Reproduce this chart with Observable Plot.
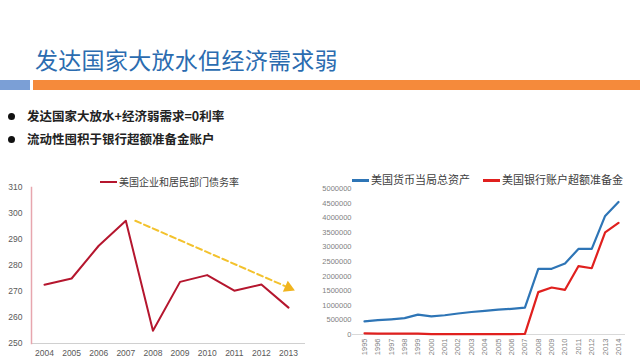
<!DOCTYPE html>
<html><head><meta charset="utf-8">
<script src="https://cdn.jsdelivr.net/npm/d3@7"></script>
<script src="https://cdn.jsdelivr.net/npm/@observablehq/plot@0.6"></script>
<style>
html,body{margin:0;padding:0;background:#fff;}
#slide{position:relative;width:640px;height:360px;overflow:hidden;background:#fff;font-family:"Noto Sans CJK SC",sans-serif;}
.abs{position:absolute;}
#title{left:35px;top:45px;font-size:23px;line-height:28px;color:#2b6cb0;letter-spacing:0.3px;white-space:nowrap;}
.bullet{left:8px;font-size:12.5px;font-weight:bold;color:#222;white-space:nowrap;line-height:16px;}
.bullet span.dot{display:inline-block;width:7px;height:7px;border-radius:50%;background:#111;margin-right:12px;vertical-align:middle;position:relative;top:-1px;}
.leg{font-size:10px;color:#404040;white-space:nowrap;line-height:14px;}
.leg i{display:inline-block;height:2px;vertical-align:middle;margin-right:2px;position:relative;top:-1px;}
</style></head>
<body><div id="slide">
<div id="title" class="abs">发达国家大放水但经济需求弱</div>
<div class="abs" style="left:0;top:80px;width:30px;height:10px;background:#7b9fd6;"></div>
<div class="abs" style="left:33px;top:80px;width:607px;height:10px;background:#f58a3b;"></div>
<div class="abs bullet" style="top:108px;"><span class="dot"></span>发达国家大放水+经济弱需求=0利率</div>
<div class="abs bullet" style="top:131px;"><span class="dot"></span>流动性囤积于银行超额准备金账户</div>
<div id="left" class="abs" style="left:0;top:175px;"></div>
<div id="right" class="abs" style="left:320px;top:170px;"></div>
<div class="abs leg" style="left:100px;top:175px;"><i style="width:17px;background:#b5162e;"></i>美国企业和居民部门债务率</div>
<div class="abs leg" style="left:352px;top:172px;font-size:11px;"><i style="width:17px;height:3px;background:#2e75b6;"></i>美国货币当局总资产</div>
<div class="abs leg" style="left:483px;top:172px;font-size:11px;"><i style="width:17px;height:3px;background:#e0201e;"></i>美国银行账户超额准备金</div>
</div>
<script>
// Left chart data: US corporate + household debt ratio
const debtYears = [2004, 2005, 2006, 2007, 2008, 2009, 2010, 2011, 2012, 2013];
const debtRatio = [272.6, 275.0, 287.6, 297.2, 254.9, 273.7, 276.3, 270.3, 272.7, 263.8];
const debtTicks = [250, 260, 270, 280, 290, 300, 310];
const trendArrow = [{x1: 2007.35, y1: 297.2, x2: 2013.0, y2: 271.5}];

// Right chart data: Fed total assets & excess reserves
const fedYears = [1995,1996,1997,1998,1999,2000,2001,2002,2003,2004,2005,2006,2007,2008,2009,2010,2011,2012,2013,2014];
const fedAssets = [450000,490000,520000,560000,680000,620000,660000,720000,770000,810000,850000,880000,920000,2250000,2250000,2430000,2930000,2930000,4060000,4540000];
const excessReserves = [40000,30000,30000,30000,30000,10000,10000,15000,15000,15000,15000,10000,20000,1450000,1610000,1530000,2340000,2270000,3500000,3820000];
const fedTicks = [0,500000,1000000,1500000,2000000,2500000,3000000,3500000,4000000,4500000,5000000];

const debtData = debtYears.map((y, i) => ({year: y, value: debtRatio[i]}));
const fedData = fedYears.flatMap((y, i) => [
  {year: y, value: fedAssets[i], series: "assets"},
  {year: y, value: excessReserves[i], series: "reserves"}
]);

const font = "Liberation Sans, DejaVu Sans, sans-serif";

const left = Plot.plot({
  width: 315, height: 185,
  marginLeft: 31, marginRight: 10, marginTop: 12, marginBottom: 17,
  style: {fontFamily: font, background: "transparent", color: "#595959"},
  x: {type: "linear", domain: [2004, 2013], range: [44, 288]},
  y: {domain: [250, 310]},
  marks: [
    Plot.ruleY([250], {stroke: "#d0d0d0", strokeWidth: 1}),
    Plot.frame({anchor: "left", stroke: "#e7a6ae", strokeWidth: 1.5}),
    Plot.axisY({ticks: debtTicks, tickSize: 0, tickPadding: 9, fontSize: 8.5, tickFormat: d => String(d), label: null}),
    Plot.axisX({ticks: debtYears, tickSize: 0, tickPadding: 6, fontSize: 8.5, tickFormat: d => String(d), label: null}),
    Plot.arrow(trendArrow, {x1: "x1", y1: "y1", x2: "x2", y2: "y2", stroke: "#f3c22d", strokeWidth: 2, strokeDasharray: "6,3.5", headLength: 0}),
    Plot.dot(trendArrow, {x: "x2", y: "y2", symbol: "triangle", r: 4.5, fill: "#f0b41e", stroke: "none", rotate: 114}),
    Plot.line(debtData, {x: "year", y: "value", stroke: "#b5162e", strokeWidth: 2})
  ]
});
document.getElementById("left").appendChild(left);

const right = Plot.plot({
  width: 320, height: 190,
  marginLeft: 32, marginRight: 15, marginTop: 18, marginBottom: 26,
  style: {fontFamily: font, background: "transparent", color: "#7f7f7f"},
  x: {type: "linear", domain: [1995, 2014], range: [44, 298]},
  y: {domain: [0, 5000000]},
  color: {domain: ["assets", "reserves"], range: ["#2e75b6", "#e0201e"]},
  marks: [
    Plot.ruleY([0], {stroke: "#d9d9d9", strokeWidth: 1}),
    Plot.axisY({ticks: fedTicks, tickSize: 0, tickPadding: 1, fontSize: 7.5, tickFormat: d => String(d), label: null}),
    Plot.axisX({ticks: fedYears, tickSize: 0, tickPadding: 4, fontSize: 7.5, tickRotate: -90, tickFormat: d => String(d), label: null}),
    Plot.line(fedData, {x: "year", y: "value", z: "series", stroke: "series", strokeWidth: 2.2})
  ]
});
document.getElementById("right").appendChild(right);
</script>
</body></html>
